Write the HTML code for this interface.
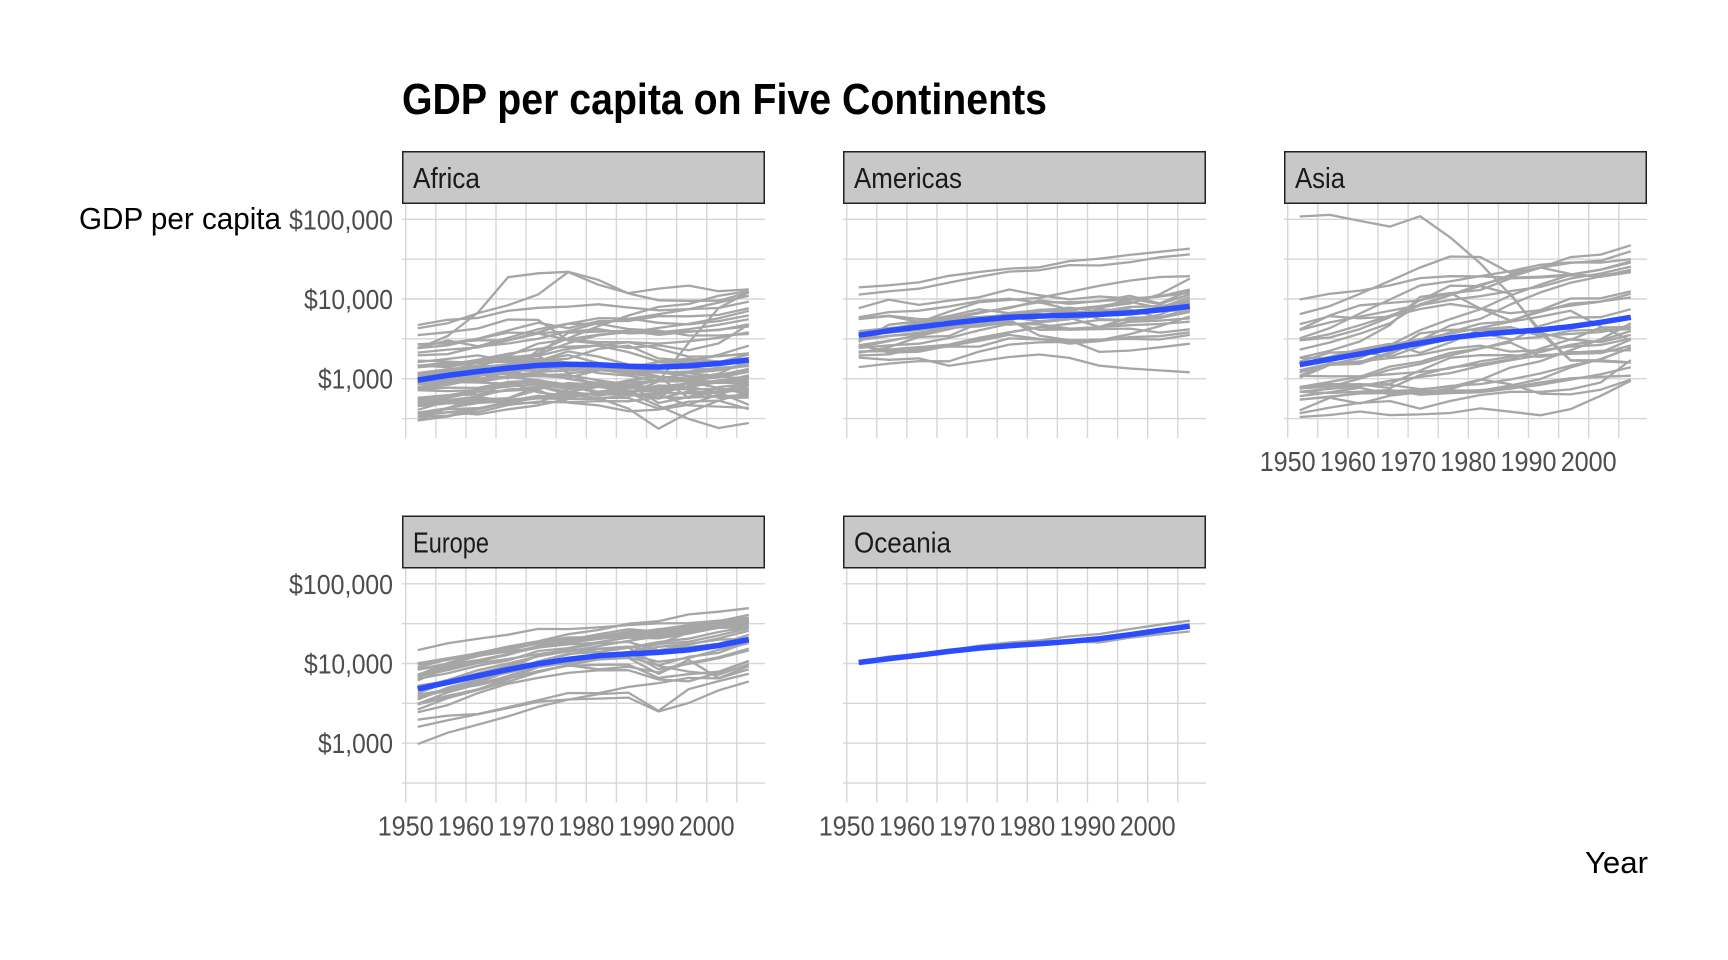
<!DOCTYPE html>
<html><head><meta charset="utf-8"><style>
html,body{margin:0;padding:0;background:#fff;}
svg{display:block;font-family:"Liberation Sans Narrow","Liberation Sans",sans-serif;}
</style></head><body>
<svg id="chart" width="1728" height="960" viewBox="0 0 1728 960" xmlns="http://www.w3.org/2000/svg">
<text x="402" y="114" font-size="44" font-weight="bold" fill="#000" textLength="645" lengthAdjust="spacingAndGlyphs">GDP per capita on Five Continents</text>
<text x="79" y="229" font-size="31" fill="#000" textLength="202" lengthAdjust="spacingAndGlyphs">GDP per capita</text>
<text x="1585" y="873" font-size="31" fill="#000" textLength="63" lengthAdjust="spacingAndGlyphs">Year</text>
<g id="panels"></g>
</svg>
<script>
const years = [1952,1957,1962,1967,1972,1977,1982,1987,1992,1997,2002,2007];
const africa = [
[2449,3014,2551,3247,4183,4910,5745,5681,5023,4797,5288,6223],[3521,3828,4269,5523,5473,3009,2757,2430,2628,2277,2773,4797],
[1063,960,949,1036,1086,1029,1278,1226,1191,1233,1373,1441],[851,918,984,1215,2263,3215,4551,6206,7954,8647,11004,12570],
[543,617,723,795,855,743,807,912,932,946,1038,1217],[339,380,355,413,464,556,560,621,631,463,446,430],
[1173,1313,1400,1508,1684,1784,2368,2603,1793,1694,1934,2042],[1071,1191,1193,1136,1070,1109,956,844,748,741,739,706],
[1179,1308,1390,1197,1104,1134,798,952,1058,1005,1156,1704],[1103,1211,1407,1876,1938,1173,1267,1315,1247,1173,1075,986],
[781,906,896,862,904,796,673,672,457,313,241,278],[2126,2315,2465,3013,3828,4879,4879,4201,4016,3484,3484,3633],
[1389,1500,1729,2052,2378,2518,2603,2157,1648,1786,1648,1545],[2670,2865,3021,3020,3694,3082,2880,2880,2377,1895,1908,2082],
[1419,1459,1693,1815,2024,2785,3504,3885,3794,4173,4754,5581],[376,426,582,916,673,605,665,643,924,2815,7703,12154],
[329,344,380,468,514,505,524,521,582,913,765,641],[362,378,419,516,566,556,577,573,421,516,530,691],
[4293,4976,6631,8358,11401,21745,15113,11864,13522,14723,12521,13206],[485,520,599,734,757,884,835,611,666,654,661,753],
[911,1044,1190,1126,1178,993,876,847,925,1005,1111,1327],[510,576,686,708,741,874,857,805,794,870,945,943],
[299,432,496,522,611,575,686,758,785,736,576,579],[853,944,897,1057,1222,1267,1348,1361,1341,1360,1287,1463],
[299,336,411,498,497,745,797,774,977,1186,1275,1569],[576,620,634,713,803,640,573,421,236,375,531,415],
[2388,3448,6757,18773,21011,21951,17364,11770,9640,9467,9534,12057],[1443,1590,1644,1635,1749,1544,1303,1156,1040,987,894,1045],
[369,416,427,495,584,663,633,635,563,692,665,759],[452,490,497,545,581,686,618,684,740,790,952,1042],
[744,846,1056,1421,1586,1497,1481,1421,1361,1483,1579,1803],[1968,2034,2530,2768,3168,3955,4997,5622,6433,7425,9022,10957],
[1688,1643,1566,1711,1930,2371,2603,2873,2756,2948,3258,3820],[468,496,556,566,724,502,462,390,410,472,633,824],
[2424,2621,3173,3793,3746,3876,4192,3694,3804,3899,4072,4811],[761,835,998,1054,954,808,910,668,581,580,601,620],
[1077,1100,1151,1015,1698,1982,1576,1385,1619,1625,1615,2014],[2718,2770,3174,4021,5048,4320,5268,5303,6102,6071,6316,7670],
[493,540,597,511,590,670,882,848,495,589,786,863],[1450,1568,1654,1612,1598,1561,1518,1441,1368,1393,1519,1712],
[879,1004,1116,1206,1354,1349,1465,1295,1068,574,699,863],[1136,1258,1369,1284,1254,1450,1176,1093,927,930,883,926],
[4725,5487,5768,7114,7765,8029,8568,7826,7225,7479,7711,9270],[1616,1771,1960,1688,1659,2202,1895,1507,1492,1632,1993,2602],
[1148,1244,1597,1711,2052,3781,3895,3985,3553,3876,4128,4513],[717,698,722,848,916,788,819,649,825,789,900,1107],
[859,925,1068,1477,1649,1532,1344,1202,1035,982,886,883],[1469,1395,1660,1932,2753,3120,3561,3810,4333,4876,5723,7093],
[735,774,767,908,951,844,683,617,644,817,928,1056],[1147,1312,1453,1778,1773,1589,1408,1213,1211,1071,1072,1271],
[407,519,528,570,799,686,789,706,693,793,672,470]];
const americas = [
[5911,6857,7133,8053,9443,10079,8998,9140,9308,10968,8798,12779],[2677,2128,2181,2587,2980,3549,3157,2754,2962,3326,3413,3822],
[2109,2487,3337,3430,4986,6660,7031,7807,6950,7958,8131,9066],[11367,12490,13462,16077,18971,22091,22899,26627,26343,28955,33329,36319],
[3940,4316,4644,4996,5094,4757,5096,5547,7596,10118,10779,13172],[2144,2324,2492,2679,3265,3816,4398,4903,5445,5414,5756,7007],
[2628,2990,3461,4161,5118,5927,5263,5630,6160,6677,7723,9645],[5587,6093,5181,5691,5305,6380,7317,7533,5593,5431,6341,8948],
[1398,1545,1663,1654,2189,2682,2862,2899,3045,3614,4564,6025],[3522,3781,4087,4580,5281,6680,7213,6482,7104,7429,5773,6873],
[3048,3421,3777,4358,4520,5138,4098,4140,4444,5155,5351,5728],[2428,2617,2750,3243,4031,4880,4820,4247,4439,4685,4858,5186],
[1840,1726,1797,1452,1654,1874,2011,1823,1457,1342,1270,1202],[2195,2220,2292,2538,2529,3203,3121,3023,3082,3160,3099,3548],
[2899,4757,5246,6125,7434,6650,6068,6351,7405,7122,6995,7321],[3478,4132,4582,5755,6809,7675,9611,8688,9472,9767,10742,11978],
[3112,3458,3634,4644,4688,5487,3470,3033,2170,2253,2475,2749],[2480,2961,3536,4421,5364,5352,7009,7034,6619,7113,7356,9809],
[1953,2017,2418,2538,3131,3794,4443,4125,4196,4248,3784,4173],[3759,4245,4957,5788,5938,6281,6435,5834,4447,5838,5909,7409],
[3082,3908,5108,6929,9123,9771,10331,12282,14642,16999,18856,19329],[3023,4100,4998,5621,6619,7899,9119,7389,7877,8792,11461,18009],
[13990,14847,16173,19531,21807,24073,25010,29884,32004,35767,39097,42952],[5717,6150,5604,5445,5703,6504,6921,7452,8137,9230,7727,10611],
[7690,9803,8423,9542,10506,13144,11152,9883,10734,10165,8605,11416]];
const asia = [
[779,821,853,836,740,786,978,852,649,635,727,975],[9867,11636,12753,14805,18269,19340,19211,18524,19036,20292,23404,29796],
[684,662,686,721,630,660,677,752,838,973,1136,1391],[368,434,497,523,422,525,625,684,682,734,896,1714],
[400,576,488,613,677,741,962,1379,1656,2277,3119,4959],[3054,3629,4693,6198,8316,11186,14561,20038,24758,28378,30209,39725],
[547,590,658,700,724,813,856,977,1164,1459,1747,2452],[750,859,849,762,1111,1383,1517,1748,2383,3119,2874,3541],
[3035,3290,4187,5907,9614,11889,7608,6643,7235,8264,9241,11606],[4130,6229,8342,8931,9577,14688,14517,11643,3745,3076,4391,4471],
[4087,5086,6017,7106,8393,9729,10861,12546,14182,18095,20897,25523],[3217,4318,6577,9847,14779,16610,19384,22376,26825,28817,28605,31656],
[1547,1887,2348,2742,2110,2852,4162,4449,3431,3646,3845,4519],[1088,1571,1622,2143,3702,4106,4106,4106,3726,1691,1647,1593],
[1031,1488,1536,2029,3031,4657,5623,8533,12104,15994,19234,23348],[108382,113523,95458,80895,109348,59265,28000,11300,4000,1700,1700,1600],
[4835,6090,5716,6006,7487,8660,7641,5378,6890,8755,9314,10461],[1831,1811,2037,2278,2850,3828,4920,5249,7278,10132,10207,12452],
[787,912,1057,1422,1630,2108,2415,2847,1897,2156,2140,3096],[331,350,388,349,357,371,424,385,347,415,611,944],
[546,598,653,661,674,695,718,776,898,1011,1057,1091],[1828,2243,2925,4720,10618,11848,12954,18115,18616,19702,19775,22316],
[685,747,804,943,1050,1176,1444,1705,1972,2049,2093,2606],[1273,1548,1650,1814,1989,2373,2603,2189,2279,2536,2651,3190],
[6459,8157,11626,16903,24837,34168,33693,21198,24841,20586,19014,21655],[2315,2843,3674,4977,8597,11210,15169,18862,24769,33519,36023,47143],
[1083,1073,1074,1136,1213,1349,1649,1877,2154,2665,3015,3970],[1644,2118,2194,1882,2571,3195,3761,3116,3340,4014,4090,4185],
[1207,1507,1823,2644,4063,5597,7426,11055,15216,20207,23235,28718],[758,793,1002,1296,1524,1962,2393,2983,4617,5853,5913,7458],
[605,676,772,637,699,714,707,821,989,1386,1765,2442],[1516,1827,2199,2650,3133,3683,4337,5173,6017,7111,4516,3026],
[782,805,826,863,1266,1829,1978,1972,1879,2118,2235,2281]];
const europe = [
[1601,1942,2313,2760,3313,3533,3631,3739,2497,3193,4604,5937],[6137,8843,10751,12835,16662,19749,21597,23688,27042,29096,32418,36126],
[8343,9715,10991,13149,16672,19118,20980,22526,25576,27561,30486,33693],[974,1354,1710,2172,2860,3528,4127,4314,2547,4766,6019,7446],
[2444,3009,4254,5578,6597,7612,8224,8239,6303,5970,7697,10681],[3119,4338,5478,6960,9164,11305,13222,13823,8448,9876,11628,14619],
[6876,8256,10137,11399,13108,14800,15377,16310,14297,16049,17596,22833],[9692,11100,13583,15937,18866,20423,21688,25116,26407,29804,32167,35278],
[6425,7545,9372,10922,14359,15605,18533,21141,20647,23724,28205,33207],[7030,8663,10560,13000,16107,18293,20294,22066,24704,25890,28926,30470],
[7144,10187,12902,14746,18016,20513,22032,24639,26505,27789,30036,32170],[3531,4916,6017,8513,12725,14196,15268,16121,17541,18748,22514,27538],
[5264,6040,7551,9326,10168,11675,12546,12986,10536,11712,14843,18009],[7268,9244,10350,13320,15798,19655,23270,26923,25144,28061,31163,36181],
[5211,5599,6632,7656,9531,11151,12618,13873,17559,24522,34077,40676],[4931,6249,8244,10022,12269,14256,16537,19208,22014,24675,27968,28570],
[2648,3682,4650,5907,7779,9596,11223,11733,7424,11082,6557,9254],[8942,11277,12791,15363,18795,21209,21400,23652,26791,30246,33725,36798],
[10095,11654,13450,16362,18965,23311,26299,31541,33965,41283,44684,49357],[4029,4734,5338,6557,8007,9508,8451,9082,7739,10160,12002,15390],
[3068,3775,4728,6361,9022,10172,11754,13039,16207,17641,19971,20510],[3144,3943,4734,6470,8011,9356,9605,9697,6598,7346,7886,10808],
[3581,4981,6289,7991,10523,12980,15181,15871,9325,7914,7236,9787],[5074,6093,7481,8412,9674,10922,11348,12037,9498,12126,13638,18678],
[4215,5862,7402,9405,12384,15277,17867,18678,14626,17161,20660,25768],[3834,4564,5694,7993,10639,13236,13926,15764,18603,20445,24835,28821],
[8528,9912,12329,15258,17832,18856,20667,23586,23880,25267,29341,33860],[14734,17909,20431,22966,27195,26982,28397,30282,31871,32135,34481,37506],
[1969,2219,2323,2826,3450,4269,4241,5089,5678,6601,6508,8458],[9980,11283,12477,14142,15895,17429,18232,21665,22705,26075,29479,33203]];
const oceania = [
[10040,10950,12217,14526,16789,18334,19477,21889,23425,26998,30688,34435],
[10557,12247,13176,14464,16046,16234,17632,19007,18363,21050,23190,25185]];
const smoothAfrica = [960,1100,1230,1360,1470,1520,1500,1430,1400,1450,1550,1720];
const smoothAmericas = [3500,4000,4450,4950,5450,5900,6100,6250,6400,6700,7300,8100];
const smoothAsia = [1500,1750,2050,2400,2800,3250,3600,3850,4100,4500,5100,5900];
const smoothEurope = [4800,5800,7000,8400,9900,11300,12500,13200,13800,14800,16800,20000];
const smoothOceania = [10300,11500,12700,14200,15600,16700,17700,18900,20500,23000,26000,29500];
const continentNames = ["Africa","Americas","Asia","Europe","Oceania"];
const yTickValues = [1000,10000,100000];
const yTickLabels = ["$1,000","$10,000","$100,000"];
const xTickYears = [1950,1960,1970,1980,1990,2000];

const NS = "http://www.w3.org/2000/svg";
const root = document.getElementById("panels");
function mk(tag, attrs, parent){
  const e = document.createElementNS(NS, tag);
  for (const k in attrs) e.setAttribute(k, attrs[k]);
  parent.appendChild(e);
  return e;
}
const stripWidths = [67,108,50,76,97];
const yLabelWidths = [75,89,104];
const layout = [
  {x0:402, top:151, showY:true, showX:false, series:africa, smooth:smoothAfrica},
  {x0:843, top:151, showY:false, showX:false, series:americas, smooth:smoothAmericas},
  {x0:1284, top:151, showY:false, showX:true, series:asia, smooth:smoothAsia},
  {x0:402, top:515.5, showY:true, showX:true, series:europe, smooth:smoothEurope},
  {x0:843, top:515.5, showY:false, showX:true, series:oceania, smooth:smoothOceania}
];
const W = 363, decade = 79.7, pxYear = 6.02;
layout.forEach((p, i) => {
  const g = mk("g", {}, root);
  
  
  const plotTop = p.top + 53, plotBot = p.top + 287;
  const y100k = p.top + 68.3;
  const ys = v => y100k - (Math.log10(v) - 5) * decade;
  const xs = yr => p.x0 + 3.7 + (yr - 1950) * pxYear;
  for (let e = 2.5; e <= 5; e += 0.5) {
    const y = ys(Math.pow(10, e));
    const ln = mk("line", {x1:p.x0, x2:p.x0+W, y1:y, y2:y, stroke:"#d6d6d6", "stroke-width":1.4}, g);
    
    
  }
  for (let yr = 1950; yr <= 2005; yr += 5) {
    const x = xs(yr);
    const ln = mk("line", {x1:x, x2:x, y1:plotTop, y2:plotBot, stroke:"#d6d6d6", "stroke-width":1.4}, g);
    
    
  }
  const strip = mk("rect", {x:p.x0+0.75, y:p.top+0.75, width:W-1.5, height:51.5, fill:"#c8c8c8", stroke:"#222", "stroke-width":1.5}, g);
  
  
  const st = mk("text", {x:p.x0+11, y:p.top+37, "font-size":29, fill:"#1a1a1a", textLength:stripWidths[i], lengthAdjust:"spacingAndGlyphs"}, g);
  st.textContent = continentNames[i];
  
  
  p.series.forEach(s => {
    const d = s.map((v, j) => (j ? "L" : "M") + xs(years[j]).toFixed(1) + "," + ys(v).toFixed(1)).join("");
    const pth = mk("path", {d:d, fill:"none", stroke:"#a6a6a6", "stroke-width":2.3, "stroke-linejoin":"round"}, g);
    
    
  });
  const sd = p.smooth.map((v, j) => (j ? "L" : "M") + xs(years[j]).toFixed(1) + "," + ys(v).toFixed(1)).join("");
  const sm = mk("path", {d:sd, fill:"none", stroke:"#2b4dff", "stroke-width":5.5, "stroke-linejoin":"round"}, g);
  
  
  if (p.showY) {
    yTickValues.forEach((v, k) => {
      const t = mk("text", {x:p.x0-9, y:ys(v)+10, "font-size":28, fill:"#4d4d4d", "text-anchor":"end", textLength:yLabelWidths[k], lengthAdjust:"spacingAndGlyphs"}, g);
      t.textContent = yTickLabels[k];
      
      
    });
  }
  if (p.showX) {
    xTickYears.forEach(yr => {
      const t = mk("text", {x:xs(yr), y:plotBot+33, "font-size":28, fill:"#4d4d4d", "text-anchor":"middle", textLength:56, lengthAdjust:"spacingAndGlyphs"}, g);
      t.textContent = yr;
      
      
    });
  }
});
</script>
</body></html>
